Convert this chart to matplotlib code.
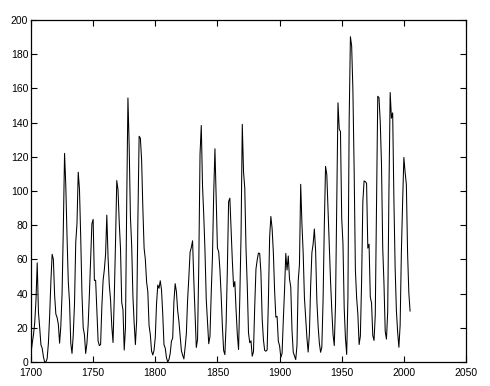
import matplotlib
matplotlib.use("Agg")
import matplotlib.pyplot as plt
import numpy as np

start_year = 1700
sunspots = [
5.0, 11.0, 16.0, 23.0, 36.0, 58.0, 29.0, 20.0, 10.0, 8.0,
3.0, 0.0, 0.0, 2.0, 11.0, 27.0, 47.0, 63.0, 60.0, 39.0,
28.0, 26.0, 22.0, 11.0, 21.0, 40.0, 78.0, 122.0, 103.0, 73.0,
47.0, 35.0, 11.0, 5.0, 16.0, 34.0, 70.0, 81.0, 111.0, 101.0,
73.0, 40.0, 20.0, 16.0, 5.0, 11.0, 22.0, 40.0, 60.0, 80.9,
83.4, 47.7, 47.8, 30.7, 12.2, 9.6, 10.2, 32.4, 47.6, 54.0,
62.9, 85.9, 61.2, 45.1, 36.4, 20.9, 11.4, 37.8, 69.8, 106.1,
100.8, 81.6, 66.5, 34.8, 30.6, 7.0, 19.8, 92.5, 154.4, 125.9,
84.8, 68.1, 38.5, 22.8, 10.2, 24.1, 82.9, 132.0, 130.9, 118.1,
89.9, 66.6, 60.0, 46.9, 41.0, 21.3, 16.0, 6.4, 4.1, 6.8,
14.5, 34.0, 45.0, 43.1, 47.5, 42.2, 28.1, 10.1, 8.1, 2.5,
0.0, 1.4, 5.0, 12.2, 13.9, 35.4, 45.8, 41.1, 30.1, 23.9,
15.6, 6.6, 4.0, 1.8, 8.5, 16.6, 36.3, 49.6, 64.2, 67.0,
70.9, 47.8, 27.5, 8.5, 13.2, 56.9, 121.5, 138.3, 103.2, 85.7,
64.6, 36.7, 24.2, 10.7, 15.0, 40.1, 61.5, 98.5, 124.7, 96.3,
66.6, 64.5, 54.1, 39.0, 20.6, 6.7, 4.3, 22.7, 54.8, 93.8,
95.8, 77.2, 59.1, 44.0, 47.0, 30.5, 16.3, 7.3, 37.6, 74.0,
139.0, 111.2, 101.6, 66.2, 44.7, 17.0, 11.3, 12.4, 3.4, 6.0,
32.3, 54.3, 59.7, 63.7, 63.5, 52.2, 25.4, 13.1, 6.8, 6.3,
7.1, 35.6, 73.0, 85.1, 78.0, 64.0, 41.8, 26.2, 26.7, 12.1,
9.5, 2.7, 5.0, 24.4, 42.0, 63.5, 53.8, 62.0, 48.5, 43.9,
18.6, 5.7, 3.6, 1.4, 9.6, 47.4, 57.1, 103.9, 80.6, 63.6,
37.6, 26.1, 14.2, 5.8, 16.7, 44.3, 63.9, 69.0, 77.8, 64.9,
35.7, 21.2, 11.1, 5.7, 8.7, 36.1, 79.7, 114.4, 109.6, 88.8,
67.8, 47.5, 30.6, 16.3, 9.6, 33.2, 92.6, 151.6, 136.3, 134.7,
83.9, 69.4, 31.5, 13.9, 4.4, 38.0, 141.7, 190.2, 184.8, 159.0,
112.3, 53.9, 37.6, 27.9, 10.2, 15.1, 47.0, 93.8, 105.9, 105.5,
104.5, 66.6, 68.9, 38.0, 34.5, 15.5, 12.6, 27.5, 92.5, 155.4,
154.6, 140.4, 115.9, 66.6, 45.9, 17.9, 13.4, 29.4, 100.2, 157.6,
142.6, 145.7, 94.3, 54.6, 29.9, 17.5, 8.6, 21.5, 64.3, 93.3,
119.6, 111.0, 104.0, 63.7, 40.4, 29.8,
]
years = np.arange(start_year, start_year + len(sunspots))
x_ticks = [1700, 1750, 1800, 1850, 1900, 1950, 2000, 2050]
y_ticks = [0, 20, 40, 60, 80, 100, 120, 140, 160, 180, 200]

fig = plt.figure(figsize=(4.9, 3.86), dpi=100)
ax = fig.add_axes([31/490, 24/386, 435/490, 342/386])
ax.plot(years, sunspots, color="black", linewidth=0.75)
ax.set_xlim(1700, 2050)
ax.set_ylim(0, 200)
ax.set_xticks(x_ticks)
ax.set_yticks(y_ticks)
ax.tick_params(direction="in", top=True, right=True, length=4, width=0.8,
               labelsize=7.5)
ax.tick_params(axis="x", pad=4)
ax.tick_params(axis="y", pad=2)
for lab in ax.get_xticklabels() + ax.get_yticklabels():
    lab.set_family(["Liberation Sans", "DejaVu Sans"])
for s in ax.spines.values():
    s.set_linewidth(0.9)
fig.savefig("out.png", dpi=100)
